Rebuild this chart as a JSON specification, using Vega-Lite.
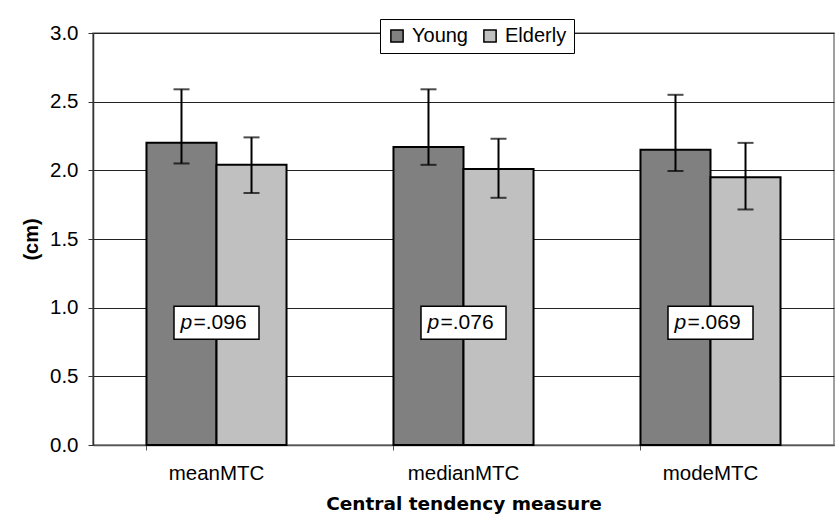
{
  "$schema": "https://vega.github.io/schema/vega-lite/v6.json",
  "width": 741,
  "height": 412,
  "autosize": {"type": "none"},
  "padding": {"left": 93, "top": 33, "right": 4, "bottom": 77},
  "background": "white",
  "config": {
    "font": "Liberation Sans",
    "view": {"stroke": "#808080", "strokeWidth": 1.5}
  },
  "datasets": {
    "bars": [
      {"measure": "meanMTC", "group": "Young", "value": 2.20, "lo": 2.05, "hi": 2.59},
      {"measure": "meanMTC", "group": "Elderly", "value": 2.04, "lo": 1.835, "hi": 2.24},
      {"measure": "medianMTC", "group": "Young", "value": 2.17, "lo": 2.04, "hi": 2.59},
      {"measure": "medianMTC", "group": "Elderly", "value": 2.01, "lo": 1.80, "hi": 2.23},
      {"measure": "modeMTC", "group": "Young", "value": 2.15, "lo": 1.995, "hi": 2.55},
      {"measure": "modeMTC", "group": "Elderly", "value": 1.95, "lo": 1.715, "hi": 2.20}
    ],
    "pvals": [
      {"measure": "meanMTC", "p": "=.096"},
      {"measure": "medianMTC", "p": "=.076"},
      {"measure": "modeMTC", "p": "=.069"}
    ]
  },
  "encoding": {
    "x": {
      "field": "measure",
      "type": "nominal",
      "sort": ["meanMTC", "medianMTC", "modeMTC"],
      "scale": {"paddingInner": 0.433, "paddingOuter": 0.2165},
      "axis": {
        "title": "Central tendency measure",
        "titleFont": "DejaVu Sans",
        "titleFontSize": 18.5,
        "titleFontWeight": "bold",
        "titleColor": "black",
        "titlePadding": 11,
        "labelAngle": 0,
        "labelFontSize": 20.5,
        "labelColor": "black",
        "labelPadding": 13,
        "bandPosition": 0,
        "tickSize": 5,
        "tickColor": "#555555",
        "domainColor": "#555555",
        "domainWidth": 1.5,
        "grid": false
      }
    }
  },
  "layer": [
    {
      "data": {"name": "bars"},
      "mark": {"type": "bar", "stroke": "black", "strokeWidth": 2},
      "encoding": {
        "xOffset": {"field": "group", "type": "nominal", "sort": ["Young", "Elderly"], "scale": {"paddingInner": 0, "paddingOuter": 0}},
        "y": {
          "field": "value",
          "type": "quantitative",
          "scale": {"domain": [0, 3], "nice": false},
          "axis": {
            "title": "(cm)",
            "titleFontSize": 20,
            "titleFontWeight": "bold",
            "titleColor": "black",
            "titlePadding": 8,
            "values": [0, 0.5, 1, 1.5, 2, 2.5, 3],
            "format": ".1f",
            "labelFontSize": 20.5,
            "labelColor": "black",
            "labelPadding": 10,
            "tickSize": 5,
            "tickColor": "#333333",
            "domainColor": "#333333",
            "domainWidth": 1.5,
            "gridColor": "#222222",
            "gridWidth": 1.2
          }
        },
        "fill": {
          "field": "group",
          "type": "nominal",
          "sort": ["Young", "Elderly"],
          "scale": {"domain": ["Young", "Elderly"], "range": ["#808080", "#c0c0c0"]},
          "legend": {
            "title": null,
            "orient": "none",
            "legendX": 287,
            "legendY": -14,
            "direction": "horizontal",
            "padding": 7,
            "strokeColor": "black",
            "fillColor": "white",
            "symbolType": "square",
            "symbolSize": 150,
            "symbolStrokeColor": "black",
            "symbolStrokeWidth": 1.5,
            "labelFontSize": 20,
            "labelColor": "black",
            "columnPadding": 12,
            "labelOffset": 5
          }
        }
      }
    },
    {
      "data": {"name": "bars"},
      "mark": {"type": "rule", "color": "black", "strokeWidth": 2},
      "encoding": {
        "xOffset": {"field": "group", "type": "nominal", "sort": ["Young", "Elderly"]},
        "y": {"field": "lo", "type": "quantitative"},
        "y2": {"field": "hi"}
      }
    },
    {
      "data": {"name": "bars"},
      "mark": {"type": "tick", "color": "black", "size": 16, "thickness": 2, "orient": "horizontal"},
      "encoding": {
        "xOffset": {"field": "group", "type": "nominal", "sort": ["Young", "Elderly"]},
        "y": {"field": "lo", "type": "quantitative"}
      }
    },
    {
      "data": {"name": "bars"},
      "mark": {"type": "tick", "color": "black", "size": 16, "thickness": 2, "orient": "horizontal"},
      "encoding": {
        "xOffset": {"field": "group", "type": "nominal", "sort": ["Young", "Elderly"]},
        "y": {"field": "hi", "type": "quantitative"}
      }
    },
    {
      "data": {"name": "pvals"},
      "mark": {"type": "bar", "fill": "white", "stroke": "black", "strokeWidth": 1.5, "width": {"band": 0.607}},
      "encoding": {
        "y": {"datum": 0.77},
        "y2": {"datum": 1.01}
      }
    },
    {
      "data": {"name": "pvals"},
      "mark": {"type": "text", "text": "p", "fontStyle": "italic", "fontSize": 21, "align": "left", "baseline": "middle", "dx": -36, "color": "black"},
      "encoding": {
        "y": {"datum": 0.89}
      }
    },
    {
      "data": {"name": "pvals"},
      "mark": {"type": "text", "fontSize": 21, "align": "left", "baseline": "middle", "dx": -23, "color": "black"},
      "encoding": {
        "y": {"datum": 0.89},
        "text": {"field": "p"}
      }
    }
  ]
}
